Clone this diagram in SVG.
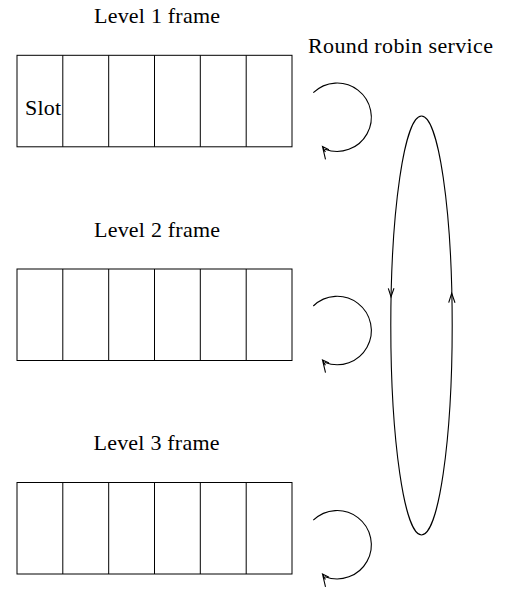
<svg xmlns="http://www.w3.org/2000/svg" width="505" height="589" viewBox="0 0 505 589">
  <style>
    .lbl { font-family: "Liberation Serif", "Times New Roman", serif; font-size: 22px; fill: #000; }
    .frame { fill: none; stroke: #000; stroke-width: 1; }
    .wire { fill: none; stroke: #000; stroke-width: 1.1; }
  </style>
  <defs>
    <!-- one frame of six slots -->
    <g id="slots">
      <rect class="frame" x="17" y="0" width="275" height="91.5"/>
      <path class="frame" d="M62.8 0V91.5M108.7 0V91.5M154.5 0V91.5M200.3 0V91.5M246.2 0V91.5"/>
    </g>
    <!-- service loop with its arrowhead, drawn beside each frame -->
    <g id="loop">
      <path class="wire" d="M313.3 92.7 A34.2 34.2 0 1 1 325 149.2"/>
      <path class="wire" d="M329 149.8 L322.5 146.6 L325.5 159.4 M322.5 146.6 L325.4 152"/>
    </g>
  </defs>

  <text class="lbl" x="94" y="22.7" textLength="126" lengthAdjust="spacing">Level 1 frame</text>
  <text class="lbl" x="308" y="53.3" textLength="185" lengthAdjust="spacing">Round robin service</text>
  <text class="lbl" x="94" y="236.5" textLength="126" lengthAdjust="spacing">Level 2 frame</text>
  <text class="lbl" x="93.5" y="450" textLength="126" lengthAdjust="spacing">Level 3 frame</text>

  <g id="level1">
    <use href="#slots" y="55.3"/>
    <text class="lbl" x="25" y="115" textLength="36" lengthAdjust="spacing">Slot</text>
  </g>
  <g id="level2">
    <use href="#slots" y="269"/>
  </g>
  <g id="level3">
    <use href="#slots" y="482.5"/>
  </g>

  <g id="connectors">
    <use href="#loop"/>
    <use href="#loop" y="213.3"/>
    <use href="#loop" y="427.5"/>
    <!-- round robin cycle between levels -->
    <ellipse class="wire" cx="421.5" cy="325.5" rx="30.7" ry="209.5"/>
    <path class="wire" d="M388.3 288.3 L391 296.7 L394 288.3"/>
    <path class="wire" d="M448.7 302.7 L451.7 293.3 L455 302.7"/>
  </g>
</svg>
